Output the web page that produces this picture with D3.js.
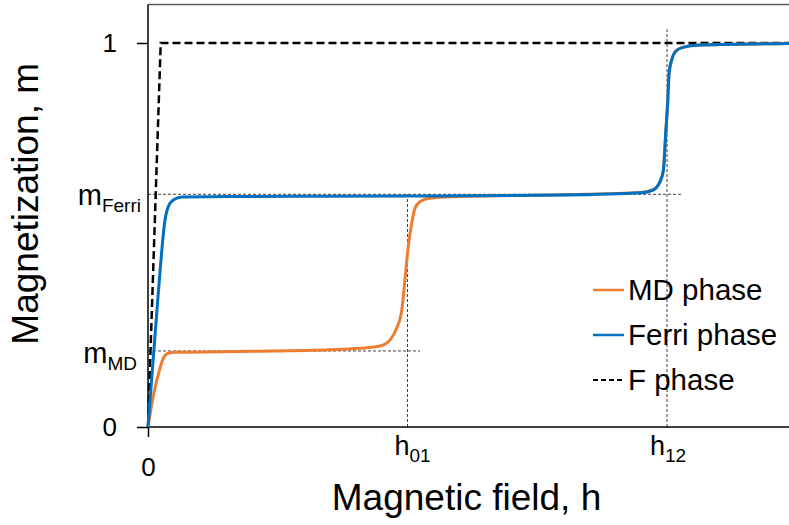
<!DOCTYPE html>
<html>
<head>
<meta charset="utf-8">
<script src="https://cdn.jsdelivr.net/npm/d3@7"></script>
<style>
  body { margin: 0; background: #fff; }
  svg { display: block; font-family: 'Liberation Sans', Arial, sans-serif; }
</style>
</head>
<body>
<script>
// values
const hMax = 2.47;          // right edge of plot
const mTop = 1.1;           // top edge of plot
const fieldTicks = [0];
const magTicks = [0, 1];
const mFerri = 0.606;
const mMD = 0.198;
const h01 = 1;
const h12 = 2;

// [h, m]
const mdPhase = [
  [0, 0], [0.020, 0.079], [0.044, 0.148], [0.059, 0.179], [0.078, 0.192],
  [0.11, 0.1945], [0.4, 0.197], [0.7, 0.201], [0.817, 0.205], [0.894, 0.211],
  [0.933, 0.227], [0.958, 0.257], [0.978, 0.305], [0.990, 0.383], [1.003, 0.47],
  [1.016, 0.530], [1.029, 0.570], [1.048, 0.587], [1.087, 0.596], [1.202, 0.600],
  [1.6, 0.605], [1.9, 0.611], [1.946, 0.618], [1.973, 0.639], [1.986, 0.669],
  [1.995, 0.766], [2.003, 0.852], [2.008, 0.922], [2.018, 0.956], [2.031, 0.977],
  [2.057, 0.988], [2.127, 0.995], [2.47, 0.999]
];

const ferriPhase = [
  [0, 0], [0.0385, 0.339], [0.0655, 0.539], [0.078, 0.574], [0.0975, 0.591],
  [0.13, 0.599], [0.3, 0.600], [0.7, 0.601], [1.2, 0.602], [1.6, 0.604],
  [1.9, 0.610], [1.946, 0.617], [1.973, 0.639], [1.986, 0.669], [1.995, 0.766],
  [2.003, 0.852], [2.008, 0.922], [2.018, 0.956], [2.031, 0.977], [2.057, 0.988],
  [2.127, 0.995], [2.47, 0.999]
];

const fPhase = [[0, 0], [0.049, 1], [2.47, 1]];

const legendItems = [
  { label: 'MD phase', color: '#ED7D31', dash: null },
  { label: 'Ferri phase', color: '#0070C0', dash: null },
  { label: 'F phase', color: '#000', dash: '5,3' }
];

const width = 789, height = 525;
const margin = { top: 4, right: 0, bottom: 98, left: 148 };

const svg = d3.select('body').append('svg')
  .attr('width', width)
  .attr('height', height);

const x = d3.scaleLinear()
  .domain([0, hMax])
  .range([margin.left, width - margin.right]);

const y = d3.scaleLinear()
  .domain([0, 1])
  .range([height - margin.bottom, 43]);

const line = d3.line()
  .x(d => x(d[0]))
  .y(d => y(d[1]))
  .curve(d3.curveMonotoneX);

// top frame line
svg.append('line')
  .attr('x1', x(0)).attr('x2', x(hMax))
  .attr('y1', y(mTop)).attr('y2', y(mTop))
  .attr('stroke', '#595959').attr('stroke-width', 1.5);

// guide lines
const guides = [
  [[0, mFerri], [2.058, mFerri]],
  [[h01, 0], [h01, 0.61]],
  [[0, mMD], [1.048, mMD]],
  [[h12, 0], [h12, 1.036]]
];
svg.append('g')
  .selectAll('line')
  .data(guides)
  .join('line')
  .attr('x1', d => x(d[0][0])).attr('y1', d => y(d[0][1]))
  .attr('x2', d => x(d[1][0])).attr('y2', d => y(d[1][1]))
  .attr('stroke', '#404040')
  .attr('stroke-width', 1)
  .attr('stroke-dasharray', '3,2');

// axes
const yAxis = svg.append('g')
  .attr('transform', `translate(${x(0)},0)`)
  .call(d3.axisLeft(y).tickValues(magTicks).tickSize(11).tickPadding(20).tickFormat(d3.format('d')));
yAxis.select('.domain').remove();

const xAxis = svg.append('g')
  .attr('transform', `translate(0,${y(0)})`)
  .call(d3.axisBottom(x).tickValues(fieldTicks).tickSize(10).tickPadding(21).tickFormat(d3.format('d')));
xAxis.select('.domain').remove();

[yAxis, xAxis].forEach(a => {
  a.selectAll('text').attr('font-size', 26).attr('fill', '#000')
    .attr('font-family', "'Liberation Sans', Arial, sans-serif");
  a.selectAll('line').attr('stroke', '#000').attr('stroke-width', 1.5);
});

svg.append('line')
  .attr('x1', x(0)).attr('x2', x(0))
  .attr('y1', y(mTop)).attr('y2', y(0))
  .attr('stroke', '#000').attr('stroke-width', 1.5);
svg.append('line')
  .attr('x1', x(0)).attr('x2', x(hMax))
  .attr('y1', y(0)).attr('y2', y(0))
  .attr('stroke', '#000').attr('stroke-width', 1.5);

// curves
svg.append('path').datum(fPhase)
  .attr('d', d3.line().x(d => x(d[0])).y(d => y(d[1])))
  .attr('fill', 'none').attr('stroke', '#000')
  .attr('stroke-width', 2.5).attr('stroke-dasharray', '8,4');

svg.append('path').datum(mdPhase)
  .attr('d', line)
  .attr('fill', 'none').attr('stroke', legendItems[0].color)
  .attr('stroke-width', 3);

svg.append('path').datum(ferriPhase)
  .attr('d', line)
  .attr('fill', 'none').attr('stroke', legendItems[1].color)
  .attr('stroke-width', 3);

// labels with subscripts
function subLabel(px, py, main, sub, anchor, size) {
  const t = svg.append('text')
    .attr('x', px).attr('y', py)
    .attr('text-anchor', anchor)
    .attr('font-size', size);
  t.append('tspan').text(main);
  t.append('tspan').attr('dy', 7).attr('font-size', 19).text(sub);
}
subLabel(x(0) - 7, y(mFerri) + 11, 'm', 'Ferri', 'end', 29);
subLabel(x(0) - 11, y(mMD) + 12, 'm', 'MD', 'end', 29);
subLabel(x(h01) - 13, y(0) + 28, 'h', '01', 'start', 27);
subLabel(x(h12) - 17, y(0) + 28, 'h', '12', 'start', 27);

// axis titles
svg.append('text')
  .attr('x', (x(0) + x(hMax)) / 2 - 2)
  .attr('y', 510)
  .attr('text-anchor', 'middle')
  .attr('font-size', 37)
  .text('Magnetic field, h');

svg.append('text')
  .attr('transform', `translate(38,${(y(0) + y(mTop)) / 2 - 12}) rotate(-90)`)
  .attr('text-anchor', 'middle')
  .attr('font-size', 37)
  .text('Magnetization, m');

// legend
const legend = svg.append('g')
  .selectAll('g')
  .data(legendItems)
  .join('g')
  .attr('transform', (d, i) => `translate(593,${290 + i * 45})`);

legend.append('line')
  .attr('x1', 0).attr('x2', 31)
  .attr('stroke', d => d.color)
  .attr('stroke-width', d => d.dash ? 2 : 2.5)
  .attr('stroke-dasharray', d => d.dash);

legend.append('text')
  .attr('x', 35)
  .attr('y', 10)
  .attr('font-size', 29.5)
  .text(d => d.label);
</script>
</body>
</html>
